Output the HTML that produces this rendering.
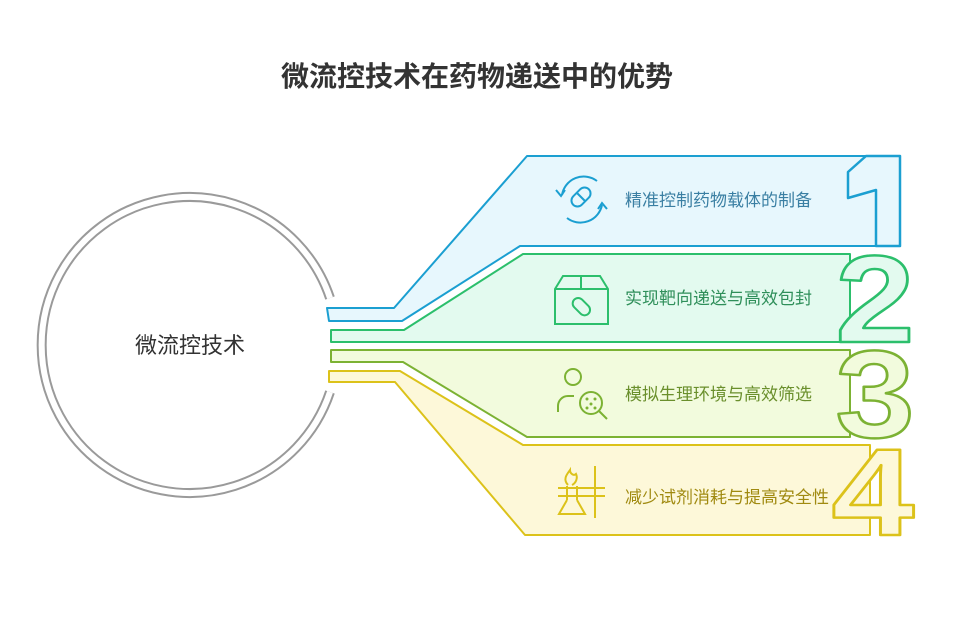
<!DOCTYPE html>
<html><head><meta charset="utf-8"><style>
body{margin:0;background:#fff;}
svg{display:block;font-family:"Liberation Sans","Noto Sans CJK SC",sans-serif;}
</style></head><body>
<svg width="955" height="623" viewBox="0 0 955 623" xmlns="http://www.w3.org/2000/svg">
<text x="477" y="86" text-anchor="middle" font-size="28" font-weight="bold" fill="#333">微流控技术在药物递送中的优势</text>

<!-- circle -->
<path d="M 330 298 A 148 148 0 1 0 330 392" fill="none" stroke="#9a9a9a" stroke-width="10"/>
<path d="M 330 298 A 148 148 0 1 0 330 392" fill="none" stroke="#fff" stroke-width="6"/>
<text x="190" y="353" text-anchor="middle" font-size="22" fill="#333">微流控技术</text>

<!-- band 4 yellow -->
<polygon points="329,371 400,371 523,445 870,445 870,535 525,535 395,382 329,382" fill="#fdf8d9" stroke="#dcc21a" stroke-width="2" stroke-linejoin="round"/>
<text x="0" y="0" transform="translate(873 535) scale(1.2 1)" text-anchor="middle" font-size="124" font-weight="bold" fill="#fdf8d9" stroke="#dcc21a" stroke-width="2.5" stroke-linejoin="round">4</text>
<!-- band 3 -->
<polygon points="331,350 850,350 850,437 527,437 403,362 331,362" fill="#f2fbdd" stroke="#7cb233" stroke-width="2" stroke-linejoin="round"/>
<text x="0" y="0" transform="translate(875 437) scale(1.15 1)" text-anchor="middle" font-size="124" font-weight="bold" fill="#f2fbdd" stroke="#7cb233" stroke-width="2.5" stroke-linejoin="round">3</text>
<!-- band 2 -->
<polygon points="331,330 404,330 523,254 850,254 850,342 331,342" fill="#e3faef" stroke="#2cbf6c" stroke-width="2" stroke-linejoin="round"/>
<text x="0" y="0" transform="translate(875 342) scale(1.15 1)" text-anchor="middle" font-size="124" font-weight="bold" fill="#e3faef" stroke="#2cbf6c" stroke-width="2.5" stroke-linejoin="round">2</text>
<!-- band 1 -->
<polygon points="327,308 394,308 527,156 876,156 876,246 520,246 402,321 329,321" fill="#e7f7fd" stroke="#1b9fd1" stroke-width="2" stroke-linejoin="round"/>
<path d="M866 156 H900 V246 H876 V190 L848 198 V172 Z" fill="#e7f7fd" stroke="#1b9fd1" stroke-width="2.5" stroke-linejoin="round"/>

<!-- labels -->
<text x="625" y="206" font-size="17" fill="#3a7fa3">精准控制药物载体的制备</text>
<text x="625" y="304" font-size="17" fill="#2f8f5a">实现靶向递送与高效包封</text>
<text x="625" y="400" font-size="17" fill="#6a8f2c">模拟生理环境与高效筛选</text>
<text x="625" y="503" font-size="17" fill="#a08a10">减少试剂消耗与提高安全性</text>

<!-- icon 1 -->
<g fill="none" stroke="#1b9fd1" stroke-width="2">
<path d="M562 195 A 22 22 0 0 1 597 181"/><path d="M602 205 A 22 22 0 0 1 567 218"/>
<path d="M556 190 l5 6 l4 -6"/><path d="M607 209 l-5 -6 l-4 6"/>
<rect x="570" y="191" width="22" height="12" rx="6" transform="rotate(-45 581 197)"/>
<line x1="577" y1="193" x2="585" y2="201"/>
</g>
<!-- icon 2 -->
<g fill="none" stroke="#2cbf6c" stroke-width="2">
<path d="M555 289 l8 -13 h37 l8 13 v35 h-53z"/><line x1="555" y1="289" x2="608" y2="289"/><line x1="581" y1="276" x2="581" y2="289"/>
<rect x="571" y="301" width="20" height="11" rx="5.5" transform="rotate(45 581 307)"/>
</g>
<!-- icon 3 -->
<g fill="none" stroke="#7cb233" stroke-width="2">
<circle cx="573" cy="377" r="8"/><path d="M558 412 v-6 a10 10 0 0 1 10 -10 h6"/>
<circle cx="591" cy="403" r="11"/><line x1="599" y1="411" x2="607" y2="419"/>
</g>
<g fill="#7cb233"><circle cx="587" cy="399" r="1.5"/><circle cx="595" cy="399" r="1.5"/><circle cx="591" cy="404" r="1.5"/><circle cx="587" cy="408" r="1.5"/><circle cx="595" cy="408" r="1.5"/></g>
<!-- icon 4 -->
<g fill="none" stroke="#dcc21a" stroke-width="2">
<path d="M568 485 c-6 -6 0 -12 2 -15 c0 4 4 6 6 4 c2 4 0 9 -4 11"/>
<line x1="558" y1="488" x2="605" y2="488"/><line x1="558" y1="496" x2="605" y2="496"/>
<line x1="595" y1="466" x2="595" y2="518"/>
<line x1="567" y1="486" x2="567" y2="500"/><line x1="577" y1="486" x2="577" y2="500"/>
<path d="M567 500 l-8 14 h26 l-8 -14"/>
</g>
</svg>
</body></html>
